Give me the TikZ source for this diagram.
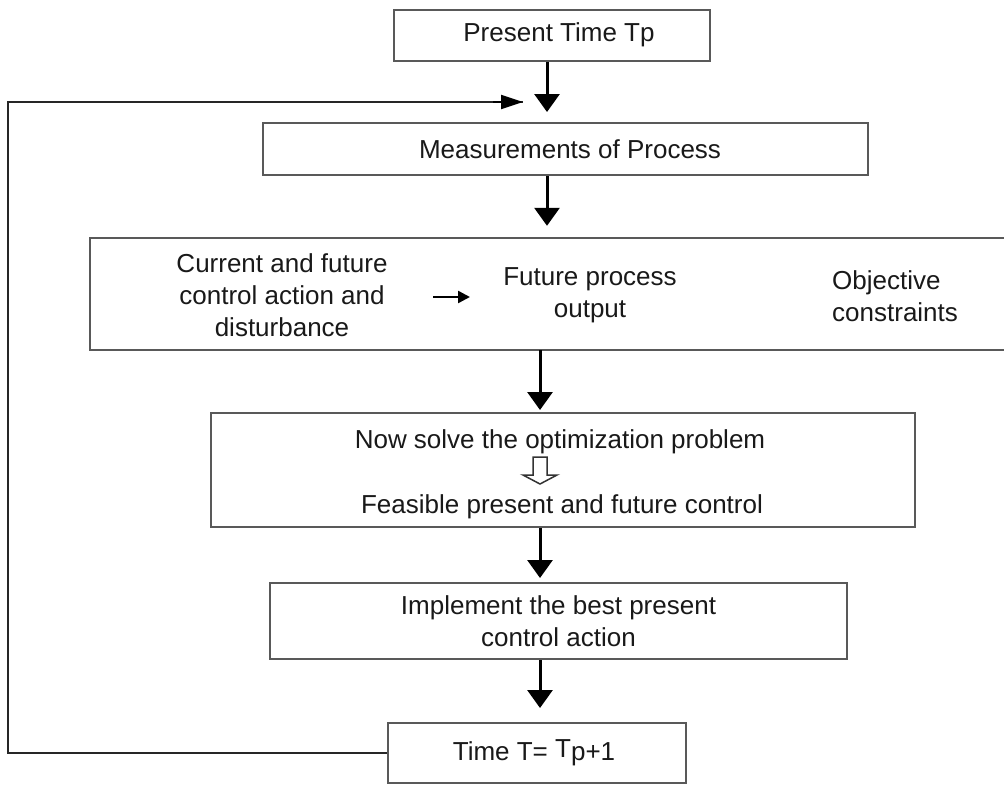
\documentclass[tikz,border=0pt]{standalone}
\usepackage{fontspec}
\setmainfont{Liberation Sans}
\usetikzlibrary{arrows.meta,calc}
\begin{document}
\begin{tikzpicture}[x=1pt,y=-1pt,
  every node/.style={font=\fontsize{26pt}{32pt}\selectfont, text=black!90, inner sep=0pt, align=center},
  stepbox/.style={draw=black!65, line width=2pt, rectangle},
  flowarr/.style={draw=black, line width=3pt, -{Triangle[width=25pt,length=18pt]}},
  smallarr/.style={draw=black, line width=2.5pt, -{Triangle[width=12pt,length=12pt]}},
  looparr/.style={draw=black, line width=2pt, -{Triangle[width=14pt,length=22pt]}},
  loopline/.style={draw=black!85, line width=2pt}
]
\useasboundingbox (0,0) rectangle (1004,785);
\fill[white] (0,0) rectangle (1004,785);

% boxes
\node[stepbox, minimum width=316pt, minimum height=51pt] (top) at (552,35.5) {};
\node (toptext) at (559,35) {Present Time Tp};
\node[stepbox, minimum width=605pt, minimum height=52pt] (meas) at (565.5,149) {};
\node (meastext) at (570,149) {Measurements of Process};
\node[minimum width=914pt, minimum height=112pt] (big) at (547,294) {};
\draw[draw=black!65, line width=2pt] (big.north east) -- (big.north west) -- (big.south west) -- (big.south east);
\node (cur) at (282,295) {Current and future\\control action and\\disturbance};
\node (fut) at (590,295) {Future process\\output};
\node[anchor=west, align=left] (obj) at (832,296) {Objective\\constraints};
\coordinate (sa1) at (433,297);
\coordinate (sa2) at (470,297);
\draw[smallarr] (sa1) -- (sa2);

\node[stepbox, minimum width=704pt, minimum height=114pt] (opt) at (563,470) {};
\node (opt1) at (560,442) {Now solve the optimization problem};
\node (opt2) at (562,507) {Feasible present and future control};
\draw[line width=1.5pt, draw=black!80, line join=miter]
  (533,457) -- (547,457) -- (547,475) -- (557,475) -- (540,484) -- (523,475) -- (533,475) -- cycle;

\node[stepbox, minimum width=577pt, minimum height=76pt] (impl) at (558.5,621) {Implement the best present\\control action};
\node[stepbox, minimum width=298pt, minimum height=60pt] (time) at (537,753) {};
\node (timetext) at (534,753) {Time T= \raisebox{3pt}{T}p+1};

% main arrows
\coordinate (ax) at (540,0);
\coordinate (bx) at (547,0);
\draw[flowarr, shorten >=10pt] (bx |- top.south) -- (bx |- meas.north);
\draw[flowarr, shorten >=12pt] (bx |- meas.south) -- (bx |- big.north);
\draw[flowarr, shorten >=2pt] (ax |- big.south) -- (ax |- opt.north);
\draw[flowarr, shorten >=4pt] (ax |- opt.south) -- (ax |- impl.north);
\draw[flowarr, shorten >=14pt] (ax |- impl.south) -- (ax |- time.north);

% feedback loop
\coordinate (lp) at (8,102);
\coordinate (fbend) at (523,102);
\draw[loopline] (time.west) -- (time.west -| lp) -- (lp) -- (fbend);
\draw[looparr] ($(fbend)+(-30,0)$) -- (fbend);
\end{tikzpicture}
\end{document}
